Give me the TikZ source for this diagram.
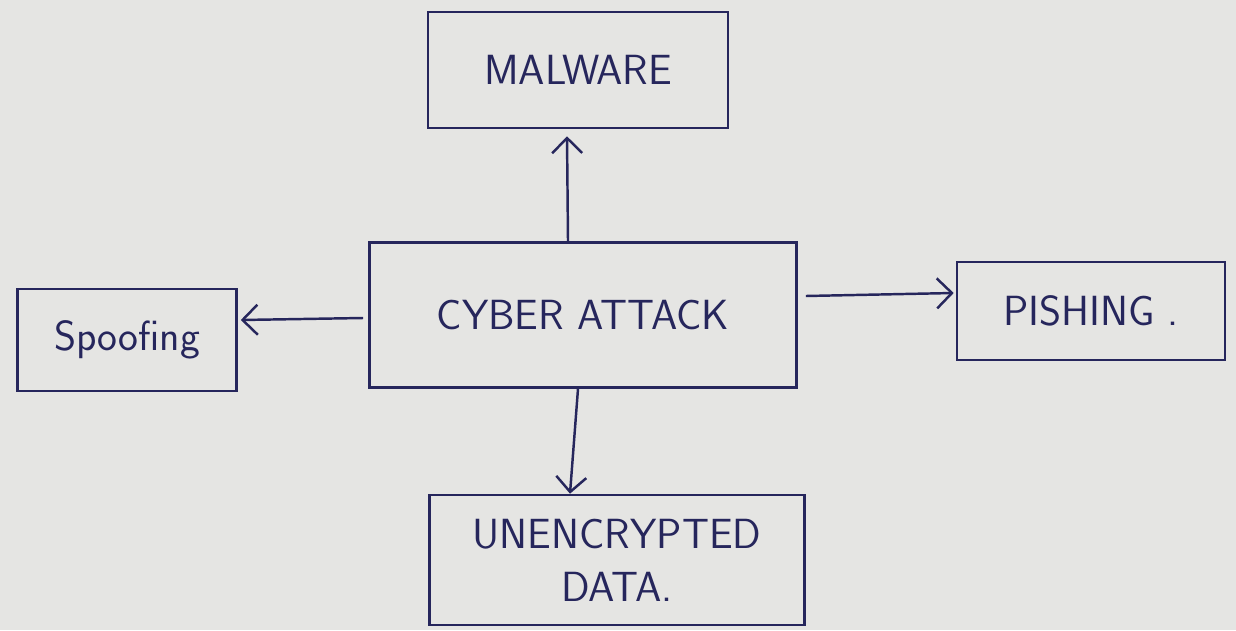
\documentclass[tikz,border=0pt]{standalone}
\usepackage{tikz}
\usetikzlibrary{arrows.meta}
\definecolor{ink}{RGB}{38,38,92}
\definecolor{paper}{RGB}{229,229,227}
\tikzstyle{box}=[draw=ink, line width=1.5pt, text=ink, inner sep=0pt, font=\sffamily\fontsize{24}{30}\selectfont, align=center]
\tikzstyle{arrow}=[draw=ink, line width=1.4pt, -{Straight Barb[length=3mm, width=6mm]}]

\begin{document}
\begin{tikzpicture}
		   \fill[paper] (0, 0) rectangle (24.72, 12.6);
		   \useasboundingbox (0, 0) rectangle (24.72, 12.6);
		   \node[box, minimum width=6cm, minimum height=2.32cm] (malware) at (11.56, 11.2) {MALWARE};
		   \node[box, minimum width=8.54cm, minimum height=2.9cm] (attack) at (11.66, 6.3) {CYBER ATTACK};
		   \node[box, minimum width=4.38cm, minimum height=2.04cm] (spoof) at (2.54, 5.8) {Spoofing};
		   \node[box, minimum width=5.36cm, minimum height=1.96cm] (pishing) at (21.82, 6.38) {PISHING .};
		   \node[box, minimum width=7.5cm, minimum height=2.6cm] (data) at (12.34, 1.4) {
			   UNENCRYPTED\\
			   DATA.
		   };
		   \draw[arrow] ([xshift=-0.3cm]attack.north) -- ([xshift=-0.22cm, yshift=-0.14cm]malware.south);
		   \draw[arrow] ([xshift=-0.1cm, yshift=-0.06cm]attack.west) -- ([xshift=0.06cm, yshift=0.4cm]spoof.east);
		   \draw[arrow] ([xshift=0.16cm, yshift=0.38cm]attack.east) -- ([xshift=-0.04cm, yshift=0.36cm]pishing.west);
		   \draw[arrow] ([xshift=-0.1cm]attack.south) -- ([xshift=-0.94cm]data.north);
	   \end{tikzpicture}
\end{document}
